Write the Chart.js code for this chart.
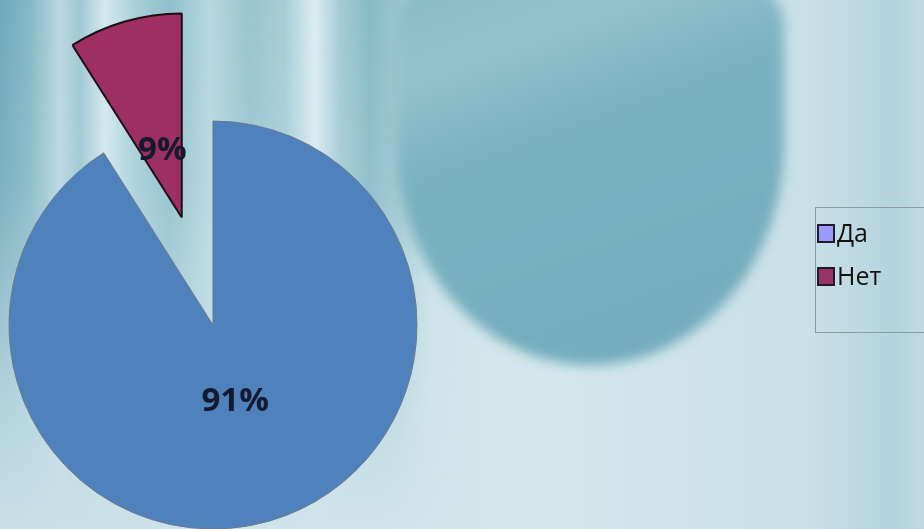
<!DOCTYPE html>
<html>
<head>
<meta charset="utf-8">
<script src="https://cdn.jsdelivr.net/npm/chart.js@4.4.1/dist/chart.umd.min.js"></script>
<style>
  html, body { margin: 0; padding: 0; }
  body { width: 924px; height: 529px; overflow: hidden; }
  #wrap {
    position: relative; width: 924px; height: 529px; overflow: hidden;
    background: linear-gradient(90deg, #c9e0e7 0%, #d3e7ec 60%, #c8e0e6 88%, #b4d3dc 97%, #c0dbe2 100%);
  }
  .bg { position: absolute; }
  #streaks {
    left: 0; top: 0; width: 470px; height: 529px;
    background: linear-gradient(90deg,
      #6ea8b8 0px, #84b8c5 30px, #b9d8e0 60px, #9fc8d3 80px, #d4e9ee 105px,
      #a9cfd9 135px, #8fbfcb 170px, #b7d7df 210px, #98c4cf 250px,
      #a8cdd7 285px, #dcedf1 315px, #a4cbd5 340px, #86b9c6 370px, #9cc7d1 400px,
      rgba(196,223,230,0.5) 430px, rgba(201,224,231,0) 470px);
    -webkit-mask-image: linear-gradient(180deg, rgba(0,0,0,1) 0%, rgba(0,0,0,0.85) 35%, rgba(0,0,0,0.25) 75%, rgba(0,0,0,0) 100%);
    mask-image: linear-gradient(180deg, rgba(0,0,0,1) 0%, rgba(0,0,0,0.85) 35%, rgba(0,0,0,0.25) 75%, rgba(0,0,0,0) 100%);
  }
  #blob {
    left: 396px; top: -60px; width: 388px; height: 425px;
    border-radius: 46% 46% 50% 50% / 20% 20% 52% 52%;
    background: linear-gradient(160deg, #82b6c3 0%, #93c2cd 25%, #7ab1bf 45%, #72abbb 100%);
    filter: blur(6px);
  }
  #chart1, #chart2 { position: absolute; left: 0; top: 0; }
  #legend {
    position: absolute; left: 815px; top: 207px; width: 140px; height: 126px;
    border: 1.5px solid #8a9ca3; box-sizing: border-box;
    font-family: "Open Sans", sans-serif; font-size: 25px; color: #111;
  }
  .item { position: absolute; left: 1px; height: 28px; line-height: 28px; white-space: nowrap; }
  .sw { display: inline-block; width: 14px; height: 15px; border: 2px solid #1b1b2b; vertical-align: middle; margin-right: 2px; position: relative; top: -2px; }
</style>
</head>
<body>
<div id="wrap">
  <div class="bg" id="streaks"></div>
  <div class="bg" id="blob"></div>
  <canvas id="chart1" width="924" height="529"></canvas>
  <canvas id="chart2" width="924" height="529"></canvas>
  <div id="legend"></div>
</div>
<script>
// data
const labels = ["Да", "Нет"];
const values = [91, 9];
const sliceColors = ["#4f81bd", "#9e2f62"];
const sliceBorders = ["#6b7a8c", "#1c1014"];
const legendColors = ["#9999ff", "#993366"];

const W = 924, H = 529;
const pieCenter = { x: 213, y: 325 };
const pieRadius = 204;
const explodeIndex = 1;
const explodeDist = 112;

const total = values.reduce((a, b) => a + b, 0);

// mid angle of a slice (chart.js starts at top, clockwise)
function midAngle(i) {
  let before = 0;
  for (let k = 0; k < i; k++) before += values[k];
  return -Math.PI / 2 + ((before + values[i] / 2) / total) * Math.PI * 2;
}

function paddingFor(cx, cy) {
  return {
    left: Math.max(0, 2 * cx - W),
    right: Math.max(0, W - 2 * cx),
    top: Math.max(0, 2 * cy - H),
    bottom: Math.max(0, H - 2 * cy)
  };
}

const pctLabels = {
  id: "pctLabels",
  afterDatasetsDraw(chart, args, opts) {
    const ctx = chart.ctx;
    const arcs = chart.getDatasetMeta(0).data;
    arcs.forEach((arc, i) => {
      if (!opts.show.includes(i)) return;
      const a = (arc.startAngle + arc.endAngle) / 2;
      const d = arc.outerRadius * opts.dist;
      const x = arc.x + Math.cos(a) * d;
      const y = arc.y + Math.sin(a) * d;
      ctx.save();
      ctx.font = "bold 33px 'Open Sans', sans-serif";
      ctx.fillStyle = "#141a2e";
      ctx.textAlign = "center";
      ctx.textBaseline = "middle";
      ctx.fillText(Math.round((values[i] / total) * 100) + "%", x, y);
      ctx.restore();
    });
  }
};

function makePie(canvasId, visible, center, labelDist) {
  return new Chart(document.getElementById(canvasId), {
    type: "pie",
    data: {
      labels: labels,
      datasets: [{
        data: values,
        backgroundColor: sliceColors.map((c, i) => visible.includes(i) ? c : "rgba(0,0,0,0)"),
        borderColor: sliceBorders.map((c, i) => visible.includes(i) ? c : "rgba(0,0,0,0)"),
        borderWidth: [1, 2],
        hoverOffset: 0
      }]
    },
    options: {
      responsive: false,
      animation: false,
      radius: pieRadius,
      layout: { padding: paddingFor(center.x, center.y) },
      events: [],
      plugins: {
        legend: { display: false },
        tooltip: { enabled: false },
        pctLabels: { show: visible, dist: labelDist }
      }
    },
    plugins: [pctLabels]
  });
}

const ang = midAngle(explodeIndex);
const exCenter = {
  x: pieCenter.x + Math.cos(ang) * explodeDist,
  y: pieCenter.y + Math.sin(ang) * explodeDist
};

makePie("chart1", [0], pieCenter, 0.39);
makePie("chart2", [explodeIndex], exCenter, 0.34);

// legend
const legend = document.getElementById("legend");
labels.forEach((l, i) => {
  const item = document.createElement("div");
  item.className = "item";
  item.style.top = (10 + i * 43) + "px";
  item.innerHTML = '<span class="sw" style="background:' + legendColors[i] + '"></span>' + l;
  legend.appendChild(item);
});
</script>
</body>
</html>
